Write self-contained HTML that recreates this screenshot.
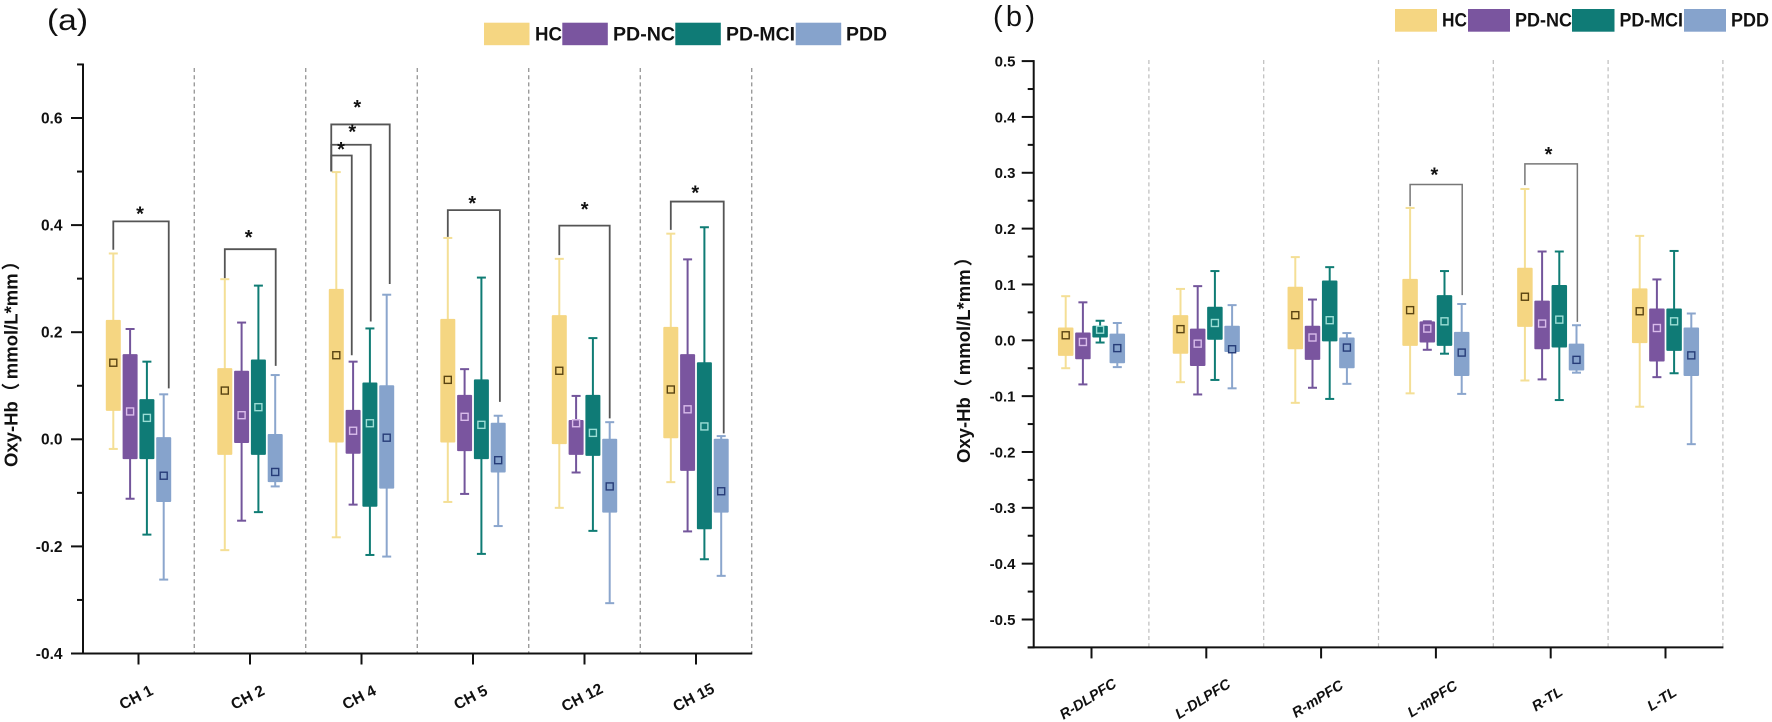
<!DOCTYPE html>
<html lang="en">
<head>
<meta charset="utf-8">
<title>Oxy-Hb box plots by channel and region</title>
<style>
html,body{margin:0;padding:0;background:#fff;}
body{width:1772px;height:722px;overflow:hidden;}
svg{display:block;filter:blur(0.35px);}
text{font-family:"Liberation Sans","Noto Sans CJK SC",sans-serif;fill:#111;}
</style>
</head>
<body>
<svg id="figure" xmlns="http://www.w3.org/2000/svg" width="1772" height="722" viewBox="0 0 1772 722">
  <rect x="0" y="0" width="1772" height="722" fill="#fff"/>
  <text x="47" y="30" font-size="30" textLength="41" lengthAdjust="spacingAndGlyphs">(a)</text>
  <text x="993" y="26" font-size="29" textLength="42" lengthAdjust="spacing">(b)</text>

  <g>
    <rect x="484" y="22.7" width="45.5" height="22.5" fill="#F5D682"/>
    <text x="535" y="40.7" font-size="19.5" font-weight="bold" textLength="27" lengthAdjust="spacingAndGlyphs">HC</text>
    <rect x="562.3" y="22.7" width="45.5" height="22.5" fill="#7A559F"/>
    <text x="613" y="40.7" font-size="19.5" font-weight="bold" textLength="62" lengthAdjust="spacingAndGlyphs">PD-NC</text>
    <rect x="675.3" y="22.7" width="45.5" height="22.5" fill="#0F7B76"/>
    <text x="726" y="40.7" font-size="19.5" font-weight="bold" textLength="69" lengthAdjust="spacingAndGlyphs">PD-MCI</text>
    <rect x="795.7" y="22.7" width="45.5" height="22.5" fill="#86A3CC"/>
    <text x="846" y="40.7" font-size="19.5" font-weight="bold" textLength="41" lengthAdjust="spacingAndGlyphs">PDD</text>
  </g>

  <g>
    <rect x="1395" y="9" width="42" height="22.7" fill="#F5D682"/>
    <text x="1442" y="26.7" font-size="19.5" font-weight="bold" textLength="25" lengthAdjust="spacingAndGlyphs">HC</text>
    <rect x="1468" y="9" width="42" height="22.7" fill="#7A559F"/>
    <text x="1515" y="26.7" font-size="19.5" font-weight="bold" textLength="57" lengthAdjust="spacingAndGlyphs">PD-NC</text>
    <rect x="1572" y="9" width="42.5" height="22.7" fill="#0F7B76"/>
    <text x="1619.5" y="26.7" font-size="19.5" font-weight="bold" textLength="63.5" lengthAdjust="spacingAndGlyphs">PD-MCI</text>
    <rect x="1684" y="9" width="42" height="22.7" fill="#86A3CC"/>
    <text x="1731" y="26.7" font-size="19.5" font-weight="bold" textLength="38" lengthAdjust="spacingAndGlyphs">PDD</text>
  </g>

  <text transform="translate(17.5,467) rotate(-90)" font-size="18.5" font-weight="bold">Oxy-Hb（<tspan dx="3.5">mmol/L*mm</tspan><tspan dx="3">）</tspan></text>
  <text transform="translate(970,463) rotate(-90)" font-size="18.5" font-weight="bold">Oxy-Hb（<tspan dx="3.5">mmol/L*mm</tspan><tspan dx="3">）</tspan></text>

  <g id="panel-a"></g>
  <g id="panel-b"></g>
</svg>

<script>
// ---- shared series ----
var seriesNames = ['HC', 'PD-NC', 'PD-MCI', 'PDD'];

// ---- panel (a): each row is [low whisker, Q1, mean, Q3, high whisker] ----
var channelCategories = ['CH 1', 'CH 2', 'CH 4', 'CH 5', 'CH 12', 'CH 15'];
var channelHC = [
  [-0.018, 0.053, 0.143, 0.223, 0.347],
  [-0.207, -0.029, 0.091, 0.133, 0.299],
  [-0.183, -0.006, 0.157, 0.281, 0.499],
  [-0.117, -0.006, 0.111, 0.225, 0.376],
  [-0.128, -0.009, 0.128, 0.232, 0.337],
  [-0.080, 0.002, 0.093, 0.210, 0.384]
];
var channelNC = [
  [-0.111, -0.037, 0.052, 0.159, 0.206],
  [-0.152, -0.007, 0.045, 0.128, 0.218],
  [-0.122, -0.027, 0.016, 0.055, 0.145],
  [-0.102, -0.022, 0.042, 0.083, 0.131],
  [-0.062, -0.029, 0.030, 0.036, 0.081],
  [-0.172, -0.059, 0.056, 0.159, 0.336]
];
var channelMCI = [
  [-0.178, -0.037, 0.040, 0.075, 0.145],
  [-0.136, -0.029, 0.060, 0.149, 0.287],
  [-0.216, -0.126, 0.030, 0.106, 0.207],
  [-0.214, -0.037, 0.027, 0.112, 0.302],
  [-0.171, -0.031, 0.012, 0.083, 0.189],
  [-0.224, -0.168, 0.024, 0.144, 0.396]
];
var channelPDD = [
  [-0.262, -0.117, -0.068, 0.004, 0.084],
  [-0.088, -0.080, -0.061, 0.010, 0.120],
  [-0.219, -0.092, 0.003, 0.101, 0.270],
  [-0.162, -0.062, -0.039, 0.031, 0.044],
  [-0.306, -0.137, -0.088, 0.001, 0.032],
  [-0.255, -0.137, -0.097, 0.001, 0.006]
];
var channelMajorTicks = [-0.4, -0.2, 0.0, 0.2, 0.4, 0.6];
var channelMajorLabels = ['-0.4', '-0.2', '0.0', '0.2', '0.4', '0.6'];
var channelMinorTicks = [-0.3, -0.1, 0.1, 0.3, 0.5, 0.7];
// significance brackets: category, first series, last series, level, left end, right end
var channelBrackets = [
  [0, 0, 3.3, 0.407, 0.354, 0.095],
  [1, 0, 3.03, 0.355, 0.301, 0.137],
  [2, -0.3, 0.92, 0.530, 0.500, 0.157],
  [2, -0.3, 2.05, 0.550, 0.500, 0.220],
  [2, -0.3, 3.18, 0.588, 0.500, 0.290],
  [3, 0, 3.1, 0.428, 0.378, 0.070],
  [4, 0, 3.0, 0.399, 0.344, 0.039],
  [5, 0, 3.15, 0.444, 0.391, 0.011]
];
// significance stars: category, series position, level
var channelStars = [
  [0, 1.59, 0.424], [1, 1.42, 0.381], [2, 0.28, 0.545], [2, 0.95, 0.578],
  [2, 1.25, 0.623], [3, 1.46, 0.444], [4, 1.51, 0.433], [5, 1.46, 0.464]
];

// ---- panel (b) ----
var regionCategories = ['R-DLPFC', 'L-DLPFC', 'R-mPFC', 'L-mPFC', 'R-TL', 'L-TL'];
var regionHC = [
  [-0.050, -0.028, 0.009, 0.023, 0.079],
  [-0.075, -0.024, 0.020, 0.045, 0.092],
  [-0.112, -0.016, 0.045, 0.096, 0.149],
  [-0.095, -0.010, 0.054, 0.110, 0.237],
  [-0.072, 0.024, 0.078, 0.130, 0.271],
  [-0.119, -0.005, 0.052, 0.093, 0.187]
];
var regionNC = [
  [-0.079, -0.034, -0.003, 0.014, 0.068],
  [-0.097, -0.046, -0.006, 0.021, 0.097],
  [-0.085, -0.035, 0.005, 0.026, 0.073],
  [-0.017, -0.004, 0.021, 0.034, 0.034],
  [-0.070, -0.016, 0.030, 0.071, 0.159],
  [-0.066, -0.038, 0.022, 0.057, 0.109]
];
var regionMCI = [
  [-0.004, 0.005, 0.019, 0.026, 0.035],
  [-0.071, 0.001, 0.031, 0.060, 0.124],
  [-0.105, -0.002, 0.036, 0.107, 0.131],
  [-0.024, -0.010, 0.034, 0.081, 0.124],
  [-0.107, -0.013, 0.037, 0.099, 0.159],
  [-0.059, -0.019, 0.034, 0.057, 0.160]
];
var regionPDD = [
  [-0.048, -0.041, -0.014, 0.012, 0.031],
  [-0.086, -0.021, -0.016, 0.026, 0.063],
  [-0.078, -0.050, -0.013, 0.005, 0.013],
  [-0.096, -0.064, -0.022, 0.015, 0.065],
  [-0.058, -0.054, -0.035, -0.006, 0.027],
  [-0.186, -0.064, -0.027, 0.023, 0.048]
];
var regionMajorTicks = [-0.5, -0.4, -0.3, -0.2, -0.1, 0.0, 0.1, 0.2, 0.3, 0.4, 0.5];
var regionMajorLabels = ['-0.5', '-0.4', '-0.3', '-0.2', '-0.1', '0.0', '0.1', '0.2', '0.3', '0.4', '0.5'];
var regionMinorTicks = [-0.55, -0.45, -0.35, -0.25, -0.15, -0.05, 0.05, 0.15, 0.25, 0.35, 0.45];
var regionBrackets = [
  [3, 0, 3.03, 0.279, 0.240, 0.081],
  [4, 0, 3.05, 0.316, 0.278, 0.033]
];
var regionStars = [
  [3, 1.41, 0.300],
  [4, 1.37, 0.336]
];

// ---- drawing helpers ----
var NS = 'http://www.w3.org/2000/svg';
var whiskerColors = ['#F4DF96', '#73559B', '#0F7C74', '#8BA6CD'];
var boxColors = ['#F5D682', '#7A559F', '#0F7B76', '#86A3CC'];
var meanColors = ['#5A4412', '#D9BCEB', '#9BDDD5', '#263C78'];

function make(parent, tag, name, interactable, props, text) {
  var el = document.createElementNS(NS, tag);
  
  
  for (var k in props) { el.setAttribute(k, props[k]); }
  if (text !== undefined) { el.textContent = text; }
  parent.appendChild(el);
  return el;
}
function slug(s) { return String(s).toLowerCase().replace(/[^a-z0-9]+/g, '-'); }

function drawPanel(cfg) {
  var root = document.getElementById(cfg.id);
  function yScale(v) { return cfg.yZero - v * cfg.yPerUnit; }
  function xCenter(i) { return cfg.xFirst + i * cfg.xStep; }
  function xSeries(i, s) { return xCenter(i) + (s - 1.5) * cfg.seriesStep; }

  var yTop = yScale(cfg.yMax), yBottom = yScale(cfg.yMin);
  var xEnd = xCenter(cfg.categories.length - 0.5);

  // separators
  var seps = make(root, 'g', cfg.prefix + '-separators', false, {});
  cfg.categories.forEach(function (c, i) {
    var sx = xCenter(i + 0.5);
    make(seps, 'line', cfg.prefix + '-separator-' + (i + 1), false, {
      x1: sx, x2: sx, y1: cfg.sepTop, y2: yBottom,
      stroke: cfg.sepColor, 'stroke-width': 1.2, 'stroke-dasharray': '4 3.2'
    });
  });

  // box groups
  var marks = make(root, 'g', cfg.prefix + '-box-plots', false, {});
  cfg.series.forEach(function (rows, s) {
    rows.forEach(function (r, i) {
      var base = cfg.prefix + '-box-' + slug(seriesNames[s]) + '-' + slug(cfg.categories[i]);
      var g = make(marks, 'g', base, true, {});
      var cx = xSeries(i, s), w = cfg.boxWidth, cap = cfg.capHalf;
      make(g, 'line', base + '-whisker', false, { x1: cx, x2: cx, y1: yScale(r[0]), y2: yScale(r[4]), stroke: whiskerColors[s], 'stroke-width': 2 });
      make(g, 'line', base + '-cap-low', false, { x1: cx - cap, x2: cx + cap, y1: yScale(r[0]), y2: yScale(r[0]), stroke: whiskerColors[s], 'stroke-width': 2 });
      make(g, 'line', base + '-cap-high', false, { x1: cx - cap, x2: cx + cap, y1: yScale(r[4]), y2: yScale(r[4]), stroke: whiskerColors[s], 'stroke-width': 2 });
      make(g, 'rect', base + '-iqr', false, { x: cx - w / 2, y: yScale(r[3]), width: w, height: yScale(r[1]) - yScale(r[3]), rx: 1, fill: boxColors[s] });
      make(g, 'rect', base + '-mean', false, { x: cx - 3.5, y: yScale(r[2]) - 3.5, width: 7, height: 7, fill: 'none', stroke: meanColors[s], 'stroke-width': 1.4 });
    });
  });

  // brackets
  var brackets = make(root, 'g', cfg.prefix + '-significance-brackets', false, {});
  cfg.brackets.forEach(function (b, k) {
    var x1 = xSeries(b[0], b[1]), x2 = xSeries(b[0], b[2]);
    make(brackets, 'path', cfg.prefix + '-bracket-' + (k + 1), false, {
      d: 'M' + x1 + ' ' + yScale(b[4]) + ' V' + yScale(b[3]) + ' H' + x2 + ' V' + yScale(b[5]),
      fill: 'none', stroke: cfg.bracketColor, 'stroke-width': cfg.bracketWidth
    });
  });
  cfg.stars.forEach(function (t, k) {
    make(brackets, 'text', cfg.prefix + '-significance-star-' + (k + 1), false, {
      x: xSeries(t[0], t[1]), y: yScale(t[2]) + 8.5, 'text-anchor': 'middle', 'font-size': 20, 'font-weight': 'bold'
    }, '*');
  });

  // axes
  var axes = make(root, 'g', cfg.prefix + '-axes', false, {});
  make(axes, 'line', cfg.prefix + '-y-axis', false, { x1: cfg.xAxis, x2: cfg.xAxis, y1: yTop - 1, y2: yBottom + 1, stroke: '#111', 'stroke-width': 2 });
  make(axes, 'line', cfg.prefix + '-x-axis', false, { x1: cfg.xAxis - cfg.xAxisLead, x2: xEnd + 0.5, y1: yBottom, y2: yBottom, stroke: '#111', 'stroke-width': 2 });
  cfg.majorTicks.forEach(function (v, k) {
    make(axes, 'line', cfg.prefix + '-y-tick-' + slug(cfg.majorLabels[k]), false, { x1: cfg.xAxis - 12, x2: cfg.xAxis, y1: yScale(v), y2: yScale(v), stroke: '#111', 'stroke-width': 2 });
    make(axes, 'text', cfg.prefix + '-y-label-' + slug(cfg.majorLabels[k]), false, {
      x: cfg.labelX, y: yScale(v) + 5.4, 'text-anchor': 'end', 'font-size': cfg.labelSize, 'font-weight': 'bold'
    }, cfg.majorLabels[k]);
  });
  cfg.minorTicks.forEach(function (v, k) {
    make(axes, 'line', cfg.prefix + '-y-minor-tick-' + (k + 1), false, { x1: cfg.xAxis - 6, x2: cfg.xAxis, y1: yScale(v), y2: yScale(v), stroke: '#111', 'stroke-width': 2 });
  });
  cfg.categories.forEach(function (c, i) {
    var cx = xCenter(i);
    make(axes, 'line', cfg.prefix + '-x-tick-' + slug(c), false, { x1: cx, x2: cx, y1: yBottom, y2: yBottom + 11, stroke: '#111', 'stroke-width': 2 });
    make(axes, 'text', cfg.prefix + '-x-label-' + slug(c), false, {
      transform: 'translate(' + (cx + cfg.xLabelShift) + ',' + cfg.xLabelY + ') rotate(' + cfg.xLabelAngle + ')',
      'text-anchor': 'middle', 'font-size': cfg.xLabelSize, 'font-weight': 'bold', 'font-style': cfg.xLabelStyle
    }, c);
  });
}

drawPanel({
  id: 'panel-a', prefix: 'panel-a',
  categories: channelCategories,
  series: [channelHC, channelNC, channelMCI, channelPDD],
  majorTicks: channelMajorTicks, majorLabels: channelMajorLabels, minorTicks: channelMinorTicks,
  brackets: channelBrackets, stars: channelStars,
  yZero: 439.3, yPerUnit: 535.5, yMax: 0.7, yMin: -0.4,
  xFirst: 138.5, xStep: 111.5, seriesStep: 16.8, boxWidth: 15, capHalf: 4.5,
  xAxis: 83, xAxisLead: 12, labelX: 62.5, labelSize: 15.5,
  sepTop: 68, sepColor: '#8a8a8a', bracketColor: '#555', bracketWidth: 1.8,
  xLabelY: 702, xLabelShift: 0, xLabelAngle: -27, xLabelSize: 15.5, xLabelStyle: 'normal'
});

drawPanel({
  id: 'panel-b', prefix: 'panel-b',
  categories: regionCategories,
  series: [regionHC, regionNC, regionMCI, regionPDD],
  majorTicks: regionMajorTicks, majorLabels: regionMajorLabels, minorTicks: regionMinorTicks,
  brackets: regionBrackets, stars: regionStars,
  yZero: 340.3, yPerUnit: 558.4, yMax: 0.5, yMin: -0.55,
  xFirst: 1091.5, xStep: 114.8, seriesStep: 17.2, boxWidth: 15.5, capHalf: 4.5,
  xAxis: 1033.7, xAxisLead: 6, labelX: 1015.5, labelSize: 15,
  sepTop: 60, sepColor: '#bdbdbd', bracketColor: '#777', bracketWidth: 1.5,
  xLabelY: 703, xLabelShift: -1, xLabelAngle: -32, xLabelSize: 14.5, xLabelStyle: 'italic'
});
</script>
</body>
</html>
